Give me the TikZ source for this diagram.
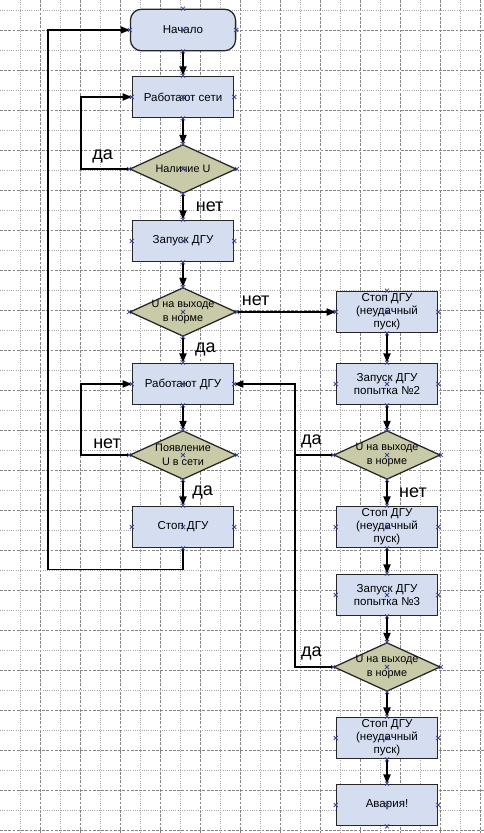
\documentclass[tikz,border=0pt]{standalone}
\usepackage{fontspec}
\setmainfont{Liberation Sans}
\usepackage{xcolor}
\usetikzlibrary{arrows.meta,positioning,shapes.geometric}
\definecolor{boxblue}{RGB}{212,222,240}
\definecolor{decolive}{RGB}{200,202,168}
\definecolor{markblue}{RGB}{60,70,150}

\begin{document}
\begin{tikzpicture}[x=0.025cm, y=-0.025cm,
  box/.style={draw=black!85, line width=0.9pt, fill=boxblue, minimum width=2.53cm,
              minimum height=1.04cm, inner sep=1pt, align=center, text=black,
              font=\fontsize{8.2}{9.3}\selectfont},
  dec/.style={diamond, draw=black!85, line width=0.9pt, fill=decolive, aspect=2.15,
              minimum width=2.66cm, minimum height=1.22cm, inner sep=-2pt,
              align=center, text=black, font=\fontsize{7.7}{10}\selectfont},
  arr/.style={-{Triangle[length=6.5pt,width=5pt]}, line width=1.3pt},
  lbl/.style={font=\fontsize{12.8}{13}\selectfont, inner sep=0pt},
  cpx/.style={draw=markblue, line width=0.55pt},
  gridA/.style={black!35, line width=0.45pt, dash pattern=on 0.7pt off 0.9pt},
  gridB/.style={black!48, line width=0.5pt, dash pattern=on 2pt off 1pt},
]
\useasboundingbox (0,0) rectangle (484,833);
% Сетка
\foreach \gx in {20,60,...,460} \draw[gridA] (\gx,0) -- (\gx,833);
\foreach \gx in {40,80,...,480} \draw[gridB] (\gx,0) -- (\gx,833);
\foreach \gy in {10,50,...,810} \draw[gridA] (0,\gy) -- (484,\gy);
\foreach \gy in {30,70,...,830} \draw[gridB] (0,\gy) -- (484,\gy);
% Узлы
\node[box, rounded corners=8pt, minimum width=2.63cm] (start) at (183,30) {Начало};
\node[box] (mains)    at (183,97)  {Работают сети};
\node[dec] (chkU)     at (183,169) {Наличие U};
\node[box] (startDGU) at (183,241) {Запуск ДГУ};
\node[dec] (chkOut)   at (183,312) {U на выходе\\в норме};
\node[box] (runDGU)   at (183,384) {Работают ДГУ};
\node[dec] (chkNet)   at (183,455) {Появление\\U в сети};
\node[box] (stopDGU)  at (183,527) {Стоп ДГУ};
\node[box] (stopA)    at (387,312) {Стоп ДГУ\\(неудачный\\пуск)};
\node[box] (tryB)     at (387,384) {Запуск ДГУ\\попытка №2};
\node[dec] (chkB)     at (387,455) {U на выходе\\в норме};
\node[box] (stopB)    at (387,527) {Стоп ДГУ\\(неудачный\\пуск)};
\node[box] (tryC)     at (387,595) {Запуск ДГУ\\попытка №3};
\node[dec] (chkC)     at (387,667) {U на выходе\\в норме};
\node[box] (stopC)    at (387,738) {Стоп ДГУ\\(неудачный\\пуск)};
\node[box] (alarm)    at (387,805) {Авария!};
% Стрелки
\draw[arr] (start)    -- (mains);
\draw[arr] (mains)    -- (chkU);
\draw[arr] (chkU)     -- node[lbl,right=8.5pt]{нет} (startDGU);
\draw[arr] (startDGU) -- (chkOut);
\draw[arr] (chkOut)   -- node[lbl,right=8pt]{да} (runDGU);
\draw[arr] (runDGU)   -- (chkNet);
\draw[arr] (chkNet)   -- node[lbl,right=6pt]{да} (stopDGU);
\draw[arr] (chkOut)   -- node[lbl,above=3.5pt,pos=0.19]{нет} (stopA);
\draw[arr] (stopA)    -- (tryB);
\draw[arr] (tryB)     -- (chkB);
\draw[arr] (chkB)     -- node[lbl,right=8pt]{нет} (stopB);
\draw[arr] (stopB)    -- (tryC);
\draw[arr] (tryC)     -- (chkC);
\draw[arr] (chkC)     -- (stopC);
\draw[arr] (stopC)    -- (alarm);
% Обратные связи
\draw[arr] (chkU.west) -- node[lbl,above=3.5pt,pos=0.55]{да} ++(-48,0) |- (mains.west);
\draw[arr] (chkNet.west) -- node[lbl,above=3.5pt,pos=0.46]{нет} ++(-48,0) |- (runDGU.west);
\draw[arr] (stopDGU.south) -- ++(0,21) -- ++(-135,0) |- (start.west);
\draw[arr] (chkB.west) -- node[lbl,above=4.5pt,pos=0.57]{да} ++(-38,0) coordinate (jB) |- (runDGU.east);
\draw[line width=1.3pt] (chkC.west) -- node[lbl,above=4pt,pos=0.57]{да} ++(-38,0) -- (jB);
% Точки соединения
\foreach \n in {start,mains,chkU,startDGU,chkOut,runDGU,chkNet,stopDGU,
                stopA,tryB,chkB,stopB,tryC,chkC,stopC,alarm}
  \foreach \a in {north,south,east,west,center}
    \draw[cpx] (\n.\a) ++(-2,-2) -- ++(4,4) ++(-4,0) -- ++(4,-4);
\end{tikzpicture}
\end{document}
